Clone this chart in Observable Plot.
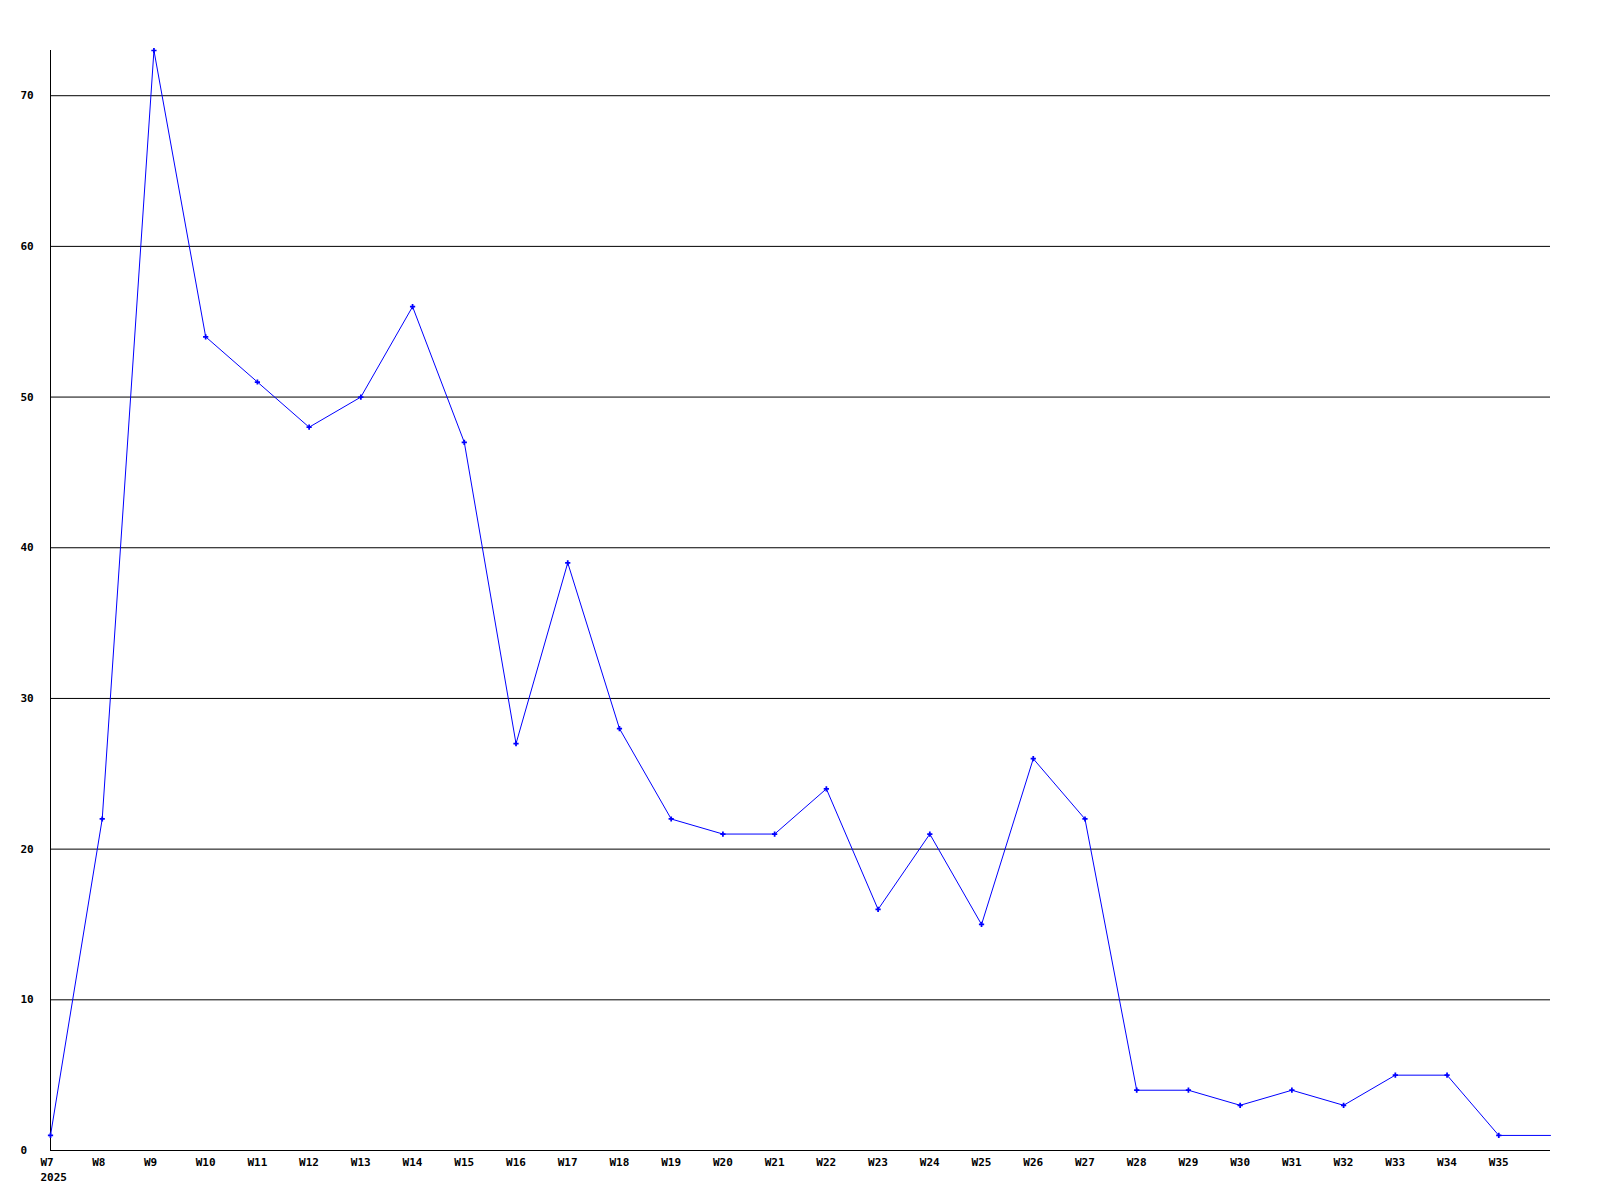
<!DOCTYPE html>
<html>
<head>
<meta charset="utf-8">
<script src="https://cdn.jsdelivr.net/npm/d3@7"></script>
<script src="https://cdn.jsdelivr.net/npm/@observablehq/plot@0.6"></script>
<style>
  html, body { margin: 0; padding: 0; background: #fff; }
</style>
</head>
<body>
<div id="chart"></div>
<script>
const weeks = [7,8,9,10,11,12,13,14,15,16,17,18,19,20,21,22,23,24,25,26,27,28,29,30,31,32,33,34,35,36];
const values = [1,22,73,54,51,48,50,56,47,27,39,28,22,21,21,24,16,21,15,26,22,4,4,3,4,3,5,5,1,1];
const tickWeeks = [7,8,9,10,11,12,13,14,15,16,17,18,19,20,21,22,23,24,25,26,27,28,29,30,31,32,33,34,35];
const yTicks = [0,10,20,30,40,50,60,70];
const gridLines = [10,20,30,40,50,60,70];
const yearLabel = "2025";

const data = weeks.map((w, i) => ({week: w, value: values[i]}));
const markerData = data.filter(d => tickWeeks.includes(d.week));

const chart = Plot.plot({
  width: 1600,
  height: 1200,
  marginLeft: 50,
  marginRight: 50,
  marginTop: 50,
  marginBottom: 50,
  style: {background: "#fff", fontFamily: "'DejaVu Sans Mono', monospace", fontSize: "11px", fontWeight: "bold", color: "#000"},
  x: {type: "linear", domain: [7, 36], axis: null},
  y: {type: "linear", domain: [0, 73], axis: null},
  marks: [
    Plot.ruleY(gridLines, {stroke: "#000", strokeWidth: 1}),
    Plot.ruleY([0], {stroke: "#000", strokeWidth: 1}),
    Plot.ruleX([7], {y1: 0, y2: 73, stroke: "#000", strokeWidth: 1}),
    Plot.line(data, {x: "week", y: "value", stroke: "#0000ff", strokeWidth: 1}),
    Plot.dot(markerData, {x: "week", y: "value", symbol: "cross", r: 2.2, fill: "#0000ff", stroke: "none"}),
    Plot.text(tickWeeks, {x: d => d, y: 0, text: d => "W" + d, textAnchor: "start", dx: -10, dy: 12, fill: "#000"}),
    Plot.text([yearLabel], {x: 7, y: 0, text: d => d, textAnchor: "start", dx: -10, dy: 27, fill: "#000"}),
    Plot.text(yTicks, {x: 7, y: d => d, text: d => String(d), textAnchor: "start", dx: -30, fill: "#000"})
  ]
});
document.getElementById("chart").appendChild(chart);
</script>
</body>
</html>
